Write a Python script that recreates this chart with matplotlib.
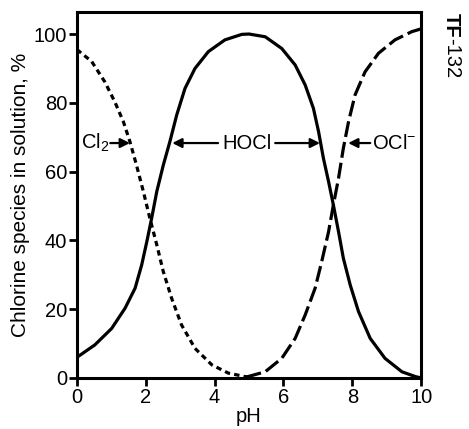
import matplotlib
matplotlib.use("Agg")
import matplotlib.pyplot as plt

plt.rcParams['font.family'] = ['Liberation Sans', 'DejaVu Sans']
plt.rcParams['mathtext.fontset'] = 'custom'
plt.rcParams['mathtext.rm'] = 'Liberation Sans'
plt.rcParams['mathtext.it'] = 'Liberation Sans'

# values (pH, % of total chlorine)
ph_cl2 = [0, 0.43, 0.81, 1.10, 1.35, 1.54, 1.73, 1.93, 2.12, 2.32, 2.51, 2.75, 3.04, 3.43, 3.92, 4.40, 4.88, 5.0]
cl2 = [95.5, 92.0, 86.1, 80.3, 74.5, 68.7, 61.9, 54.2, 46.4, 38.7, 30.9, 23.2, 15.4, 8.6, 3.8, 1.4, 0.4, 0.2]

ph_hocl = [0, 0.52, 1.01, 1.40, 1.69, 1.88, 2.03, 2.17, 2.32, 2.51, 2.70, 2.90, 3.14, 3.43, 3.82, 4.30, 4.79,
           5.0, 5.47, 5.95, 6.34, 6.63, 6.87, 7.02, 7.16, 7.31, 7.45, 7.60, 7.74, 7.94, 8.18, 8.52, 8.95,
           9.44, 9.83, 10]
hocl = [6.0, 9.6, 14.4, 20.3, 26.1, 32.8, 39.6, 46.4, 54.2, 61.9, 68.7, 76.5, 84.2, 90.0, 94.9, 98.3, 99.9,
        100.0, 99.2, 95.8, 91.0, 85.2, 78.4, 71.6, 63.9, 57.1, 50.3, 42.5, 34.8, 27.0, 19.3, 11.5, 5.7,
        1.8, 0.4, 0.0]

ph_ocl = [4.9, 5.47, 5.95, 6.34, 6.63, 6.92, 7.11, 7.31, 7.45, 7.60, 7.74, 7.89, 8.08, 8.37, 8.76, 9.24, 9.73, 10]
ocl = [0.2, 1.8, 5.7, 11.5, 18.3, 26.1, 33.8, 42.5, 50.3, 58.1, 66.8, 74.5, 82.3, 89.0, 94.4, 98.3, 100.7, 101.5]

x_ticks = [0, 2, 4, 6, 8, 10]
y_ticks = [0, 20, 40, 60, 80, 100]

fig = plt.figure(figsize=(4.69, 4.29), dpi=100)
ax = fig.add_axes([0.164, 0.119, 0.734, 0.853])

lw = 2.3
ax.plot(ph_cl2, cl2, color='black', lw=lw, dashes=(1.7, 1.3), solid_joinstyle='round')
ax.plot(ph_hocl, hocl, color='black', lw=lw, solid_joinstyle='round')
ax.plot(ph_ocl, ocl, color='black', lw=lw, dashes=(5, 1.6), solid_joinstyle='round')

ax.set_xlim(0, 10)
ax.set_ylim(0, 106.4)
ax.set_xticks(x_ticks)
ax.set_yticks(y_ticks)
for s in ax.spines.values():
    s.set_linewidth(2.2)
ax.tick_params(direction='out', length=6, width=2, labelsize=14.5, pad=1)
ax.set_xlabel('pH', fontsize=14.5, labelpad=0)
ax.set_ylabel('Chlorine species in solution, %', fontsize=15, labelpad=3)

# labels with arrows
arrow = dict(arrowstyle='-|>', color='black', lw=1.6, mutation_scale=14, shrinkA=0, shrinkB=0)
ya = 68.3
ax.text(0.52, ya, 'Cl$_2$', fontsize=14.5, ha='center', va='center')
ax.annotate('', xy=(1.54, ya), xytext=(0.97, ya), arrowprops=arrow)
ax.text(4.94, ya, 'HOCl', fontsize=14.5, ha='center', va='center')
ax.annotate('', xy=(2.77, ya), xytext=(4.1, ya), arrowprops=arrow)
ax.annotate('', xy=(7.06, ya), xytext=(5.76, ya), arrowprops=arrow)
ax.text(8.58, ya, 'OCl$^{-}$', fontsize=14.5, ha='left', va='center')
ax.annotate('', xy=(7.88, ya), xytext=(8.52, ya), arrowprops=arrow)

fig.text(0.962, 1 - 13 / 429, 'TF', rotation=270, ha='center', va='top', fontsize=14.5, weight='bold')
fig.text(0.962, 1 - 38 / 429, '-132', rotation=270, ha='center', va='top', fontsize=14.5)

fig.savefig('out.png', dpi=100)
